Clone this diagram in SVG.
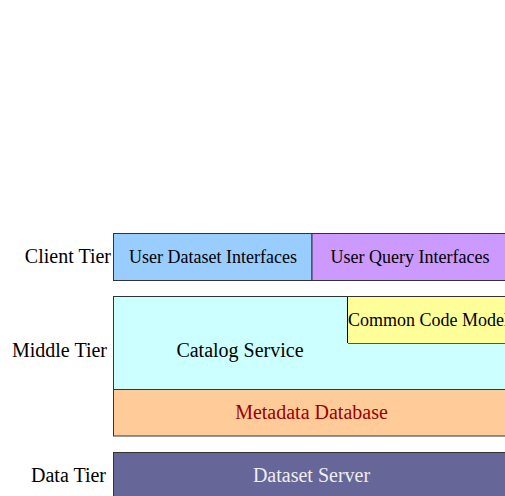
<svg xmlns="http://www.w3.org/2000/svg" width="505" height="496" viewBox="0 0 505 496">
<style>
text{font-family:"Liberation Serif","Times New Roman",serif;fill:#000}
.lbl{font-size:20px;text-anchor:end}
.big{font-size:20px;text-anchor:middle}
.sm{font-size:18px;text-anchor:middle}
.box{stroke:#333;stroke-width:1}
</style>
<rect width="505" height="496" fill="#fff"/>
<g id="labels">
<text class="lbl" x="111" y="263">Client Tier</text>
<text class="lbl" x="107" y="357">Middle Tier</text>
<text class="lbl" x="106" y="482">Data Tier</text>
</g>
<g id="user-dataset-interfaces">
<rect class="box" x="113.5" y="233.5" width="198.5" height="47" fill="#99ccff"/>
<text class="sm" x="213" y="263">User Dataset Interfaces</text>
</g>
<g id="user-query-interfaces">
<rect class="box" x="312" y="233.5" width="200" height="47" fill="#cc99ff"/>
<text class="sm" x="410" y="263">User Query Interfaces</text>
</g>
<g id="catalog-service">
<rect class="box" x="113.5" y="296.5" width="400" height="93" fill="#ccffff"/>
<text class="big" x="240" y="357">Catalog Service</text>
</g>
<g id="common-code-model">
<rect x="348" y="297" width="165" height="46" fill="#ffff99"/>
<line x1="347.5" y1="297" x2="347.5" y2="343" stroke="#000"/>
<line x1="348" y1="343.5" x2="505" y2="343.5" stroke="#555"/>
<text x="348" y="326" style="font-size:18px">Common Code Model</text>
</g>
<g id="metadata-database">
<rect class="box" x="113.5" y="389.5" width="400" height="46.5" fill="#ffcc99"/>
<text class="big" x="311.5" y="419" style="fill:#990000">Metadata Database</text>
</g>
<g id="dataset-server">
<rect class="box" x="113.5" y="452.5" width="400" height="50" fill="#666699"/>
<text class="big" x="311.5" y="482" style="fill:#eeeeee">Dataset Server</text>
</g>
<g id="connectors"></g>
</svg>
